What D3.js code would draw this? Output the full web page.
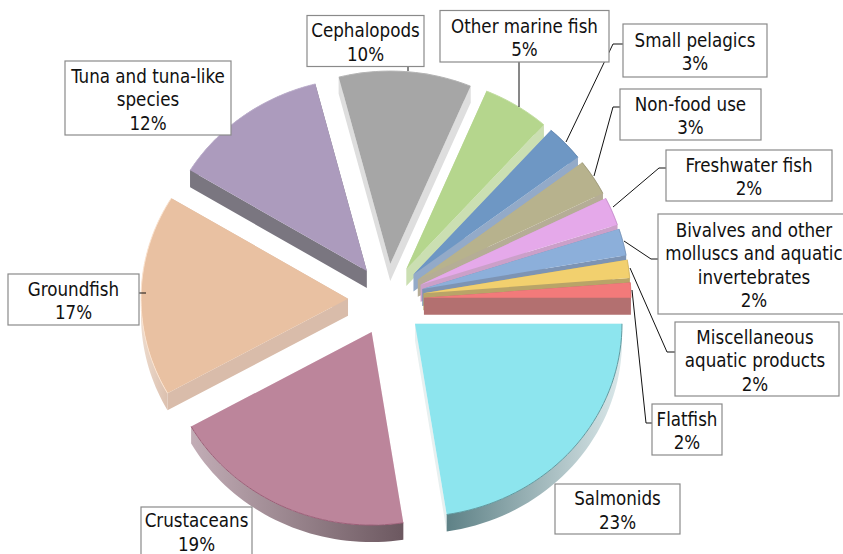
<!DOCTYPE html>
<html>
<head>
<meta charset="utf-8">
<script src="https://cdn.jsdelivr.net/npm/d3@7"></script>
<style>
  html, body { margin: 0; padding: 0; background: #fff; overflow: hidden; }
  text { font-family: 'DejaVu Sans Condensed', 'DejaVu Sans'; font-stretch: condensed; font-size: 18.6px; fill: #111; }
</style>
</head>
<body>
<svg id="chart" width="843" height="554"></svg>
<script>
const categories = ['Salmonids', 'Crustaceans', 'Groundfish', 'Tuna and tuna-like species', 'Cephalopods',
  'Other marine fish', 'Small pelagics', 'Non-food use', 'Freshwater fish',
  'Bivalves and other molluscs and aquatic invertebrates', 'Miscellaneous aquatic products', 'Flatfish']
const values = [23, 19, 17, 12, 10, 5, 3, 3, 2, 2, 2, 2]

const labelLines = [
  ['Salmonids'], ['Crustaceans'], ['Groundfish'], ['Tuna and tuna-like', 'species'], ['Cephalopods'],
  ['Other marine fish'], ['Small pelagics'], ['Non-food use'], ['Freshwater fish'],
  ['Bivalves and other', 'molluscs and aquatic', 'invertebrates'], ['Miscellaneous', 'aquatic products'], ['Flatfish'],
]

const topColors = ['#8de5ee', '#bc859b', '#e9c1a2', '#ac9bbd', '#a6a6a6', '#b5d68d',
  '#6e97c4', '#b7b28d', '#e5a9ea', '#8cafda', '#f2d06e', '#f27a7a']
// outer wall, left and right end of the gradient
const wallColors = [
  ['#5e8186', '#dbe8ea'], ['#c2adb6', '#6c5860'], ['#eddbcd', '#d9bcaa'], ['#7a7680', '#7a7680'],
  ['#dedede', '#dedede'], ['#cbdfb2', '#cbdfb2'], ['#93aac8', '#93aac8'], ['#b5ad96', '#b5ad96'],
  ['#cba0c9', '#cba0c9'], ['#7d94b4', '#7d94b4'], ['#b9a468', '#b9a468'], ['#b37070', '#b37070'],
]
// walls under the two straight edges
const edgeColors = ['#e8f0f0', '#f3e9ed', '#d9bcaa', '#7a7680', '#dedede', '#cbdfb2',
  '#93aac8', '#b5ad96', '#cba0c9', '#7d94b4', '#b9a468', '#b37070']
const rimColors = ['#5f9aa0', '#9c5f78', '#fbe3cf', '#c0b2d0', '#b4b4b4', '#c4dfa4',
  '#5f83ad', '#9c9878', '#c98ecf', '#7a97bb', '#d8b85e', '#e66e6e']

// label boxes and their leader lines, [x0, y0, x1, y1]
const boxes = [
  [555, 484, 680, 534], [141, 507, 252, 555], [8, 274, 139, 325], [65, 61, 231, 135],
  [307, 15.5, 424, 66.5], [440, 10.5, 609, 62], [623, 24, 767, 77], [620, 89, 761, 140],
  [666, 150, 832, 201], [658, 214, 850, 314], [675, 322, 839, 396], [652, 404, 722, 455],
]
const leaders = [
  null, null, [[139, 293], [146, 293]], null,
  [[408, 66], [408, 71]], [[519, 62], [519, 107]],
  [[623, 44], [613, 44], [566, 142]], [[620, 107], [613, 107], [594, 176]],
  [[666, 168], [659, 168], [613, 207]], [[658, 259], [651, 259], [624, 241]],
  [[675, 352], [667, 352], [630, 268]], [[652, 423], [646, 423], [632, 290]],
]

const cx = 388
const cy = 300
const rx = 207
const ry = 193
const depth = 17
const explode = [36, 36, 40, 36, 36, 36, 36, 36, 36, 36, 36, 36]
// back slices first, the front ones sit over their walls
const drawOrder = [4, 3, 5, 6, 7, 8, 9, 10, 11, 2, 1, 0]

const svg = d3.select('#chart')
const defs = svg.append('defs')

const deg = Math.PI / 180
const pie = d3.pie().sort(null).startAngle(90 * deg).endAngle(450 * deg)
// the 3d view shifts slice edges a little around the rim
const perspective = d3.scaleLinear()
  .domain([90, 172.8, 241.2, 302.4, 345.6, 381.6, 399.6, 410.4, 421.2, 428.4, 435.6, 442.8, 450])
  .range([90, 171.2, 240.7, 301.4, 345.6, 382.8, 401.6, 412.6, 423.4, 431.9, 440, 445.5, 450])
const slices = pie(values).map(d => ({
  ...d,
  startAngle: perspective(d.startAngle / deg) * deg,
  endAngle: perspective(d.endAngle / deg) * deg,
  midAngle: (d.startAngle + d.endAngle) / 2,
}))
const arc = d3.arc().innerRadius(0).outerRadius(rx)
const squash = ry / rx

function apexOf(d, i) {
  return [cx + explode[i] * Math.sin(d.midAngle), cy - explode[i] * Math.cos(d.midAngle)]
}

function rimPoints(d, apex) {
  return d3.range(41).map(k => {
    const a = d.startAngle + ((d.endAngle - d.startAngle) * k) / 40
    return [apex[0] + rx * Math.sin(a), apex[1] - ry * Math.cos(a)]
  })
}

// side wall: one quad per segment, all wound the same way
function wallPath(points) {
  let path = ''
  d3.pairs(points).forEach(([p, q]) => {
    const quad = [p, q, [q[0], q[1] + depth], [p[0], p[1] + depth]]
    if (d3.polygonArea(quad) < 0) quad.reverse()
    path += `M${quad.join('L')}Z`
  })
  return path
}

drawOrder.forEach(i => {
  const d = slices[i]
  const apex = apexOf(d, i)
  const rim = rimPoints(d, apex)

  const gradient = defs.append('linearGradient').attr('id', `wall-${i}`)
  gradient.append('stop').attr('offset', 0).attr('stop-color', wallColors[i][0])
  gradient.append('stop').attr('offset', 1).attr('stop-color', wallColors[i][1])

  const g = svg.append('g').attr('class', 'slice')
  g.append('path')
    .attr('d', wallPath([rim[0], apex, rim[rim.length - 1]]))
    .attr('fill', edgeColors[i])
  g.append('path')
    .attr('d', wallPath(rim))
    .attr('fill', `url(#wall-${i})`)
  g.append('path')
    .attr('d', arc(d))
    .attr('transform', `translate(${apex[0]},${apex[1]}) scale(1,${squash})`)
    .attr('fill', topColors[i])
  g.append('path')
    .attr('d', d3.line()(rim))
    .attr('fill', 'none')
    .attr('stroke', rimColors[i])
    .attr('stroke-width', 1)
})

svg.append('g')
  .selectAll('path')
  .data(leaders.filter(Boolean))
  .join('path')
  .attr('d', d3.line())
  .attr('fill', 'none')
  .attr('stroke', '#111')
  .attr('stroke-width', 1)

const labels = svg.append('g')
  .selectAll('g')
  .data(categories)
  .join('g')

labels.append('rect')
  .attr('x', (d, i) => boxes[i][0])
  .attr('y', (d, i) => boxes[i][1])
  .attr('width', (d, i) => boxes[i][2] - boxes[i][0])
  .attr('height', (d, i) => boxes[i][3] - boxes[i][1])
  .attr('fill', '#fff')
  .attr('stroke', '#8a8a8a')
  .attr('stroke-width', 1.2)

const lineHeight = 23.5
labels.each(function (d, i) {
  const lines = [...labelLines[i], `${values[i]}%`]
  const mid = (boxes[i][1] + boxes[i][3]) / 2 + 2.5
  const textX = Math.min((boxes[i][0] + boxes[i][2]) / 2, 755)
  const top = mid - ((lines.length - 1) * lineHeight) / 2
  d3.select(this)
    .selectAll('text')
    .data(lines)
    .join('text')
    .attr('x', textX)
    .attr('y', (t, k) => top + k * lineHeight)
    .attr('text-anchor', 'middle')
    .attr('dominant-baseline', 'middle')
    .text(t => t)
})
</script>
</body>
</html>
